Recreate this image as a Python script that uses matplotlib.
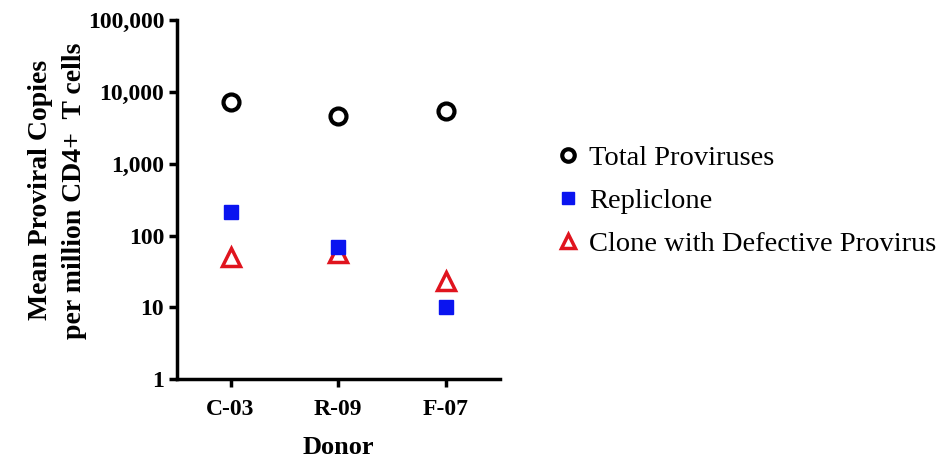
import matplotlib
matplotlib.use("Agg")
import matplotlib.pyplot as plt
from matplotlib.ticker import FixedLocator, NullLocator
from matplotlib.lines import Line2D

# Data
donors = ["C-03", "R-09", "F-07"]
total_proviruses = [7300, 4600, 5400]
repliclone = [215, 70, 10]
defective_clone = [51, 57, 23]

y_ticks = [1, 10, 100, 1000, 10000, 100000]
y_tick_labels = ["1", "10", "100", "1,000", "10,000", "100,000"]

plt.rcParams["font.family"] = ["Liberation Serif", "DejaVu Serif"]

fig = plt.figure(figsize=(9.5, 4.59), dpi=100)
ax = fig.add_axes([0.186, 0.174, 0.340, 0.782])

x = list(range(len(donors)))
ax.plot(x, total_proviruses, linestyle="none", marker="o", markersize=11.5,
        markerfacecolor="none", markeredgecolor="black", markeredgewidth=3, zorder=3)
ax.plot(x, repliclone, linestyle="none", marker="s", markersize=10.5,
        markerfacecolor="#0a14f0", markeredgecolor="#0a14f0", zorder=4)
ax.plot(x, defective_clone, linestyle="none", marker="^", markersize=13,
        markerfacecolor="none", markeredgecolor="#e0141e", markeredgewidth=2.5, zorder=3)

ax.set_yscale("log")
ax.set_ylim(1, 100000)
ax.set_xlim(-0.5, 2.5)
ax.yaxis.set_major_locator(FixedLocator(y_ticks))
ax.yaxis.set_minor_locator(NullLocator())
ax.set_yticklabels(y_tick_labels, fontsize=17, fontweight="bold")
ax.set_xticks(x)
ax.set_xticklabels(donors, fontsize=17, fontweight="bold")

for side in ["top", "right"]:
    ax.spines[side].set_visible(False)
for side in ["left", "bottom"]:
    ax.spines[side].set_linewidth(2.5)
ax.tick_params(axis="both", width=2.5, length=6, color="black", pad=3)
ax.tick_params(axis="x", pad=8)

ax.set_xlabel("Donor", fontsize=19, fontweight="bold", labelpad=12)
ax.set_ylabel("Mean Proviral Copies\nper million CD4+  T cells", fontsize=20,
              fontweight="bold", linespacing=1.45)
ax.yaxis.set_label_coords(-0.279, 0.526)

handles = [
    Line2D([], [], linestyle="none", marker="o", markersize=9, markerfacecolor="none",
           markeredgecolor="black", markeredgewidth=3),
    Line2D([], [], linestyle="none", marker="s", markersize=9,
           markerfacecolor="#0a14f0", markeredgecolor="#0a14f0"),
    Line2D([], [], linestyle="none", marker="^", markersize=10, markerfacecolor="none",
           markeredgecolor="#e0141e", markeredgewidth=2.5),
]
labels = ["Total Proviruses", "Repliclone", "Clone with Defective Provirus"]
fig.legend(handles, labels, loc="center left", bbox_to_anchor=(0.578, 0.563),
           frameon=False, fontsize=20.5, handletextpad=0.5, labelspacing=0.6,
           handlelength=0.5, borderaxespad=0)

fig.savefig("out.png", dpi=100)
